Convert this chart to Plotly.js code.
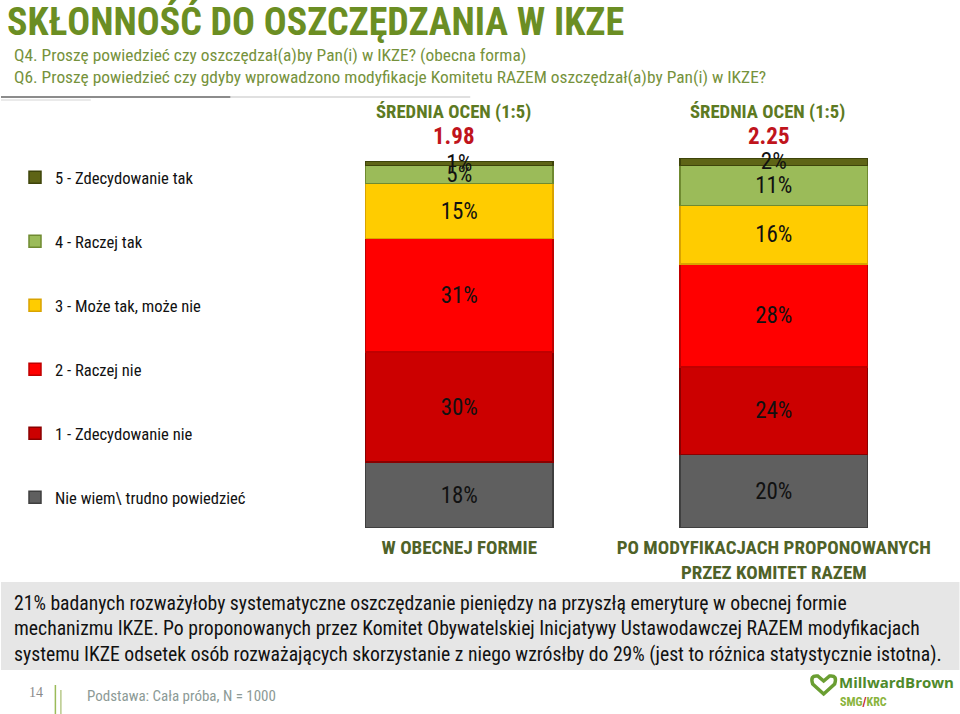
<!DOCTYPE html>
<html>
<head>
<meta charset="utf-8">
<script src="https://cdn.plot.ly/plotly-3.0.1.min.js"></script>
<style>html,body{margin:0;padding:0;background:#fff;}#chart{width:960px;height:714px;}</style>
</head>
<body>
<div id="chart"></div>
<script>
const categories = ["W OBECNEJ FORMIE", "PO MODYFIKACJACH PROPONOWANYCH<br>PRZEZ KOMITET RAZEM"];
const seriesNames = ["Nie wiem\\ trudno powiedzieć", "1 - Zdecydowanie nie", "2 - Raczej nie", "3 - Może tak, może nie", "4 - Raczej tak", "5 - Zdecydowanie tak"];
const nieWiem = [18, 20];
const zdecydowanieNie = [30, 24];
const raczejNie = [31, 28];
const mozeTak = [15, 16];
const raczejTak = [5, 11];
const zdecydowanieTak = [1, 2];
const means = ["1.98", "2.25"];
const meanHeader = "ŚREDNIA OCEN (1:5)";

const seriesValues = [nieWiem, zdecydowanieNie, raczejNie, mozeTak, raczejTak, zdecydowanieTak];
const seriesColors = ["#5f5f5f", "#cc0000", "#ff0000", "#ffcc00", "#9bbb59", "#5e6416"];
const seriesLines = ["#3f3f3f", "#8a0000", "#c00000", "#d9a300", "#6f8a30", "#3e440a"];

const FONT = "'Roboto Condensed', 'Liberation Sans Narrow', 'Arial Narrow', sans-serif";
const OLIVE = "#5d7a22";

// pixel -> paper helpers (layout only)
const L = 301.5, R = 931.5, T = 158, B = 528;
const px = v => (v - L) / (R - L);
const py = v => (B - v) / (B - T);

const traces = seriesValues.map((vals, i) => ({
  type: "bar",
  name: seriesNames[i],
  legendgroup: "g" + i,
  legendrank: 1000 - i,
  x: categories,
  y: vals,
  marker: {color: seriesColors[i], line: {color: seriesLines[i], width: 1.5}},
  texttemplate: "%{y}%",
  textposition: "inside",
  insidetextanchor: "middle",
  textangle: 0,
  constraintext: "none",
  cliponaxis: false,
  textfont: {family: FONT, size: 23, color: "#111111"},
  hoverinfo: "skip"
}));

const annotations = [];
categories.forEach((c, i) => {
  annotations.push({xref: "x", yref: "paper", x: c, xshift: -6, y: py(111.5), text: "<b>" + meanHeader + "</b>", showarrow: false,
    font: {family: FONT, size: 18.7, color: OLIVE}, yanchor: "middle"});
  annotations.push({xref: "x", yref: "paper", x: c, xshift: -5, y: py(136.5), text: "<b>" + means[i] + "</b>", showarrow: false,
    font: {family: FONT, size: 23, color: "#c0141c"}, yanchor: "middle"});
});
annotations.push({xref: "paper", yref: "paper", x: px(11), y: py(55), xanchor: "left", yanchor: "middle", showarrow: false,
  text: "Q4. Proszę powiedzieć czy oszczędzał(a)by Pan(i) w IKZE? (obecna forma)", font: {family: FONT, size: 17.4, color: "#76923c"}});
annotations.push({xref: "paper", yref: "paper", x: px(11), y: py(77), xanchor: "left", yanchor: "middle", showarrow: false,
  text: "Q6. Proszę powiedzieć czy gdyby wprowadzono modyfikacje Komitetu RAZEM oszczędzał(a)by Pan(i) w IKZE?", font: {family: FONT, size: 17.4, color: "#76923c"}});
const noteLines = [
  "21% badanych rozważyłoby systematyczne oszczędzanie pieniędzy na przyszłą emeryturę w obecnej formie",
  "mechanizmu IKZE. Po proponowanych przez Komitet Obywatelskiej Inicjatywy Ustawodawczej RAZEM modyfikacjach",
  "systemu IKZE odsetek osób rozważających skorzystanie z niego wzrósłby do 29% (jest to różnica statystycznie istotna)."
];
const noteY = [603, 628, 654];
noteLines.forEach((t, i) => annotations.push({xref: "paper", yref: "paper", x: px(11), y: py(noteY[i]), xanchor: "left", yanchor: "middle",
  showarrow: false, text: t, font: {family: FONT, size: 19.7, color: "#111111"}}));
annotations.push({xref: "paper", yref: "paper", x: px(26), y: py(692), xanchor: "left", yanchor: "middle", showarrow: false,
  text: "14", font: {family: "'Liberation Serif', serif", size: 14, color: "#8a8a8a"}});
annotations.push({xref: "paper", yref: "paper", x: px(84), y: py(696), xanchor: "left", yanchor: "middle", showarrow: false,
  text: "Podstawa: Cała próba, N = 1000", font: {family: FONT, size: 15, color: "#8c9a96"}});
annotations.push({xref: "paper", yref: "paper", x: px(837), y: py(682), xanchor: "left", yanchor: "middle", showarrow: false,
  text: "<b>MillwardBrown</b>", font: {family: "'Open Sans', sans-serif", size: 15, color: "#4f8a2b"}});
annotations.push({xref: "paper", yref: "paper", x: px(838), y: py(702), xanchor: "left", yanchor: "middle", showarrow: false,
  text: "<b>SMG<span style='color:#c0141c'>/</span>KRC</b>", font: {family: "'Roboto Condensed', sans-serif", size: 12, color: "#8ab43c"}});

const shapes = [
  {type: "rect", xref: "paper", yref: "paper", x0: px(0), x1: px(960), y0: py(582), y1: py(670), fillcolor: "#e6e6e6", line: {width: 0}, layer: "below"},
  {type: "line", xref: "paper", yref: "paper", x0: px(0), x1: px(230), y0: py(97), y1: py(97), line: {color: "#8c8c8c", width: 2}},
  {type: "line", xref: "paper", yref: "paper", x0: px(230), x1: px(470), y0: py(97), y1: py(97), line: {color: "#e0e0e0", width: 2}},
  {type: "line", xref: "paper", yref: "paper", x0: px(0), x1: px(90), y0: py(100), y1: py(100), line: {color: "#d5d5d5", width: 1}},
  {type: "line", xref: "paper", yref: "paper", x0: px(54.5), x1: px(54.5), y0: py(685), y1: py(714), line: {color: "#9bbb59", width: 1.5}},
  {type: "line", xref: "paper", yref: "paper", x0: px(60), x1: px(60), y0: py(690), y1: py(714), line: {color: "#b8c98a", width: 1.5}},
  {type: "path", xref: "paper", yref: "paper",
   path: "M " + px(824) + "," + py(694) + " L " + px(813) + "," + py(684) + " Q " + px(810) + "," + py(675) + " " + px(818) + "," + py(676) +
         " L " + px(824) + "," + py(681) + " L " + px(830) + "," + py(676) + " Q " + px(838) + "," + py(675) + " " + px(835) + "," + py(684) + " Z",
   line: {color: "#6a9e32", width: 3.5}, fillcolor: "rgba(0,0,0,0)"}
];

const layout = {
  width: 960, height: 714,
  margin: {l: L, r: 960 - R, t: T, b: 714 - B, pad: 0},
  paper_bgcolor: "#ffffff", plot_bgcolor: "#ffffff",
  barmode: "stack", bargap: 0.404,
  font: {family: FONT, color: "#111111"},
  title: {text: "<b>SKŁONNOŚĆ DO OSZCZĘDZANIA W IKZE</b>", xref: "container", yref: "container", x: 7 / 960, xanchor: "left",
          y: 1 - 22 / 714, yanchor: "middle", font: {family: FONT, size: 38, color: "#6b8e23"}},
  xaxis: {type: "category", showgrid: false, zeroline: false, showline: false, ticks: "", fixedrange: true, ticklabelstandoff: 6,
          tickfont: {family: FONT, size: 19, color: "#4f6228", weight: "bold"}},
  yaxis: {range: [0, 101], visible: false, fixedrange: true},
  showlegend: true,
  legend: {xref: "container", yref: "container", x: 15 / 960, y: 1 - 160 / 714, xanchor: "left", yanchor: "top",
           traceorder: "grouped", tracegroupgap: 39.4, maxheight: 520, font: {family: FONT, size: 16.6, color: "#111111"},
           bgcolor: "rgba(0,0,0,0)", itemclick: false, itemdoubleclick: false},
  annotations: annotations,
  shapes: shapes
};

Plotly.newPlot("chart", traces, layout, {displayModeBar: false, staticPlot: true});
</script>
</body>
</html>
